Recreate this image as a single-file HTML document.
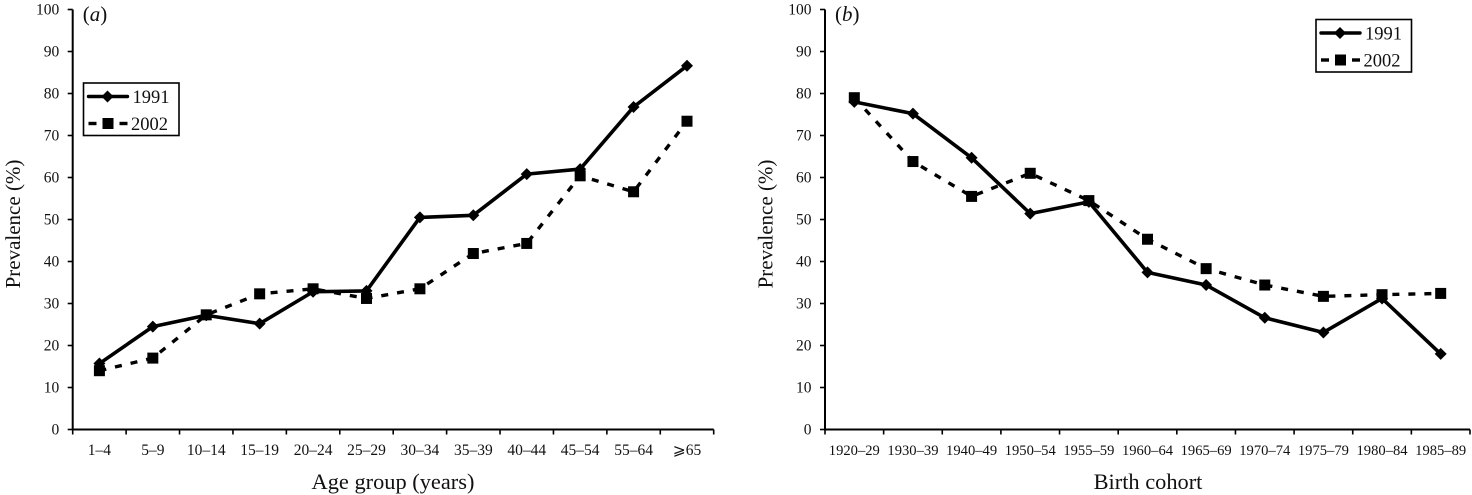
<!DOCTYPE html>
<html>
<head>
<meta charset="utf-8">
<style>
html,body{margin:0;padding:0;background:#fff;}
svg{display:block;font-family:"Liberation Serif","DejaVu Serif",serif;fill:#111;}
</style>
</head>
<body>
<svg id="chart" width="1472" height="495" viewBox="0 0 1472 495" xmlns="http://www.w3.org/2000/svg"></svg>
<script>
const yTicks = [0,10,20,30,40,50,60,70,80,90,100];
const ageGroups = ['1–4','5–9','10–14','15–19','20–24','25–29','30–34','35–39','40–44','45–54','55–64','⩾65'];
const age1991 = [15.7,24.5,27.2,25.2,32.8,33,50.5,51,60.8,62,76.8,86.6];
const age2002 = [14,17,27.3,32.3,33.5,31.2,33.5,41.9,44.3,60.4,56.6,73.4];
const cohorts = ['1920–29','1930–39','1940–49','1950–54','1955–59','1960–64','1965–69','1970–74','1975–79','1980–84','1985–89'];
const cohort1991 = [78,75.2,64.7,51.4,54.2,37.4,34.4,26.6,23.1,31.2,18];
const cohort2002 = [79,63.8,55.5,61,54.5,45.3,38.3,34.4,31.7,32.1,32.4];

const svg = document.getElementById('chart');
const NS = 'http://www.w3.org/2000/svg';
function mk(tag, attrs, parent, text){
  const el = document.createElementNS(NS, tag);
  for (const k in attrs) el.setAttribute(k, attrs[k]);
  if (text !== undefined) el.textContent = text;
  parent.appendChild(el);
  return el;
}
function marker(kind, x, y, parent, name){
  let el;
  if (kind === 'diamond') {
    el = mk('polygon', {points:`${x},${y-6} ${x+6},${y} ${x},${y+6} ${x-6},${y}`, fill:'#000'}, parent);
  } else {
    el = mk('rect', {x:x-5.5, y:y-5.5, width:11, height:11, fill:'#000'}, parent);
  }
  
  
}
function panel(o){
  const g = mk('g', {}, svg);
  
  
  const top = 9.5, bottom = 429.5, yMax = 100;
  const y = v => bottom - (v / yMax) * (bottom - top);
  const band = o.width / o.cats.length;
  const x = i => o.x0 + band * (i + 0.5);

  const axis = mk('path', {
    d:`M${o.x0} ${top}V${bottom}H${o.x0 + o.width}`,
    fill:'none', stroke:'#000', 'stroke-width':2
  }, g);
  
  

  yTicks.forEach(t => {
    const tick = mk('line', {x1:o.x0-5, x2:o.x0, y1:y(t), y2:y(t), stroke:'#000', 'stroke-width':1.6}, g);
    
    
    const label = mk('text', {x:o.x0-13.5, y:y(t)+5, 'text-anchor':'end', 'font-size':15.5}, g, t);
    
    
  });
  for (let i = 0; i <= o.cats.length; i++) {
    const xt = o.x0 + band * i;
    const tick = mk('line', {x1:xt, x2:xt, y1:bottom, y2:bottom+5, stroke:'#000', 'stroke-width':1.6}, g);
    
    
  }
  o.cats.forEach((c, i) => {
    const label = mk('text', {x:x(i), y:455, 'text-anchor':'middle', 'font-size':o.catSize}, g, c);
    
    
  });

  const pts = s => s.map((v, i) => x(i) + ',' + y(v)).join(' ');
  const dashed = mk('polyline', {points:pts(o.s2002), fill:'none', stroke:'#000', 'stroke-width':3.4, 'stroke-dasharray':'7 9'}, g);
  
  
  const solid = mk('polyline', {points:pts(o.s1991), fill:'none', stroke:'#000', 'stroke-width':3.6, 'stroke-linejoin':'round'}, g);
  
  
  o.s1991.forEach((v, i) => marker('diamond', x(i), y(v), g, o.id + '-point-1991'));
  o.s2002.forEach((v, i) => marker('square', x(i), y(v), g, o.id + '-point-2002'));

  const yTitle = mk('text', {transform:`translate(${o.x0-52.5},224) rotate(-90)`, 'text-anchor':'middle', 'font-size':21}, g, 'Prevalence (%)');
  
  
  const xTitle = mk('text', {x:o.xTitleX, y:489, 'text-anchor':'middle', 'font-size':22.4}, g, o.xTitle);
  
  
  const tag = mk('text', {x:o.x0+10, y:21, 'font-size':21}, g);
  
  
  mk('tspan', {}, tag, '(');
  mk('tspan', {'font-style':'italic'}, tag, o.id);
  mk('tspan', {}, tag, ')');

  const lg = mk('g', {}, g);
  
  
  const lx = o.legendX, ly = o.legendY;
  mk('rect', {x:lx, y:ly, width:95.5, height:52.5, fill:'#fff', stroke:'#000', 'stroke-width':1.6}, lg);
  mk('line', {x1:lx+5, x2:lx+44, y1:ly+13.5, y2:ly+13.5, stroke:'#000', 'stroke-width':3.4, 'stroke-linecap':'round'}, lg);
  marker('diamond', lx+24, ly+13.5, lg, 'legend-marker-1991');
  mk('text', {x:lx+49, y:ly+20, 'font-size':18.5}, lg, '1991');
  mk('line', {x1:lx+5, x2:lx+13, y1:ly+40.5, y2:ly+40.5, stroke:'#000', 'stroke-width':3.4}, lg);
  mk('line', {x1:lx+36, x2:lx+44, y1:ly+40.5, y2:ly+40.5, stroke:'#000', 'stroke-width':3.4}, lg);
  marker('square', lx+24.5, ly+40.5, lg, 'legend-marker-2002');
  mk('text', {x:lx+47.5, y:ly+47, 'font-size':18.5}, lg, '2002');
}
panel({id:'a', x0:72.7, width:641, cats:ageGroups, s1991:age1991, s2002:age2002, catSize:15.5, xTitle:'Age group (years)', xTitleX:393, legendX:83.5, legendY:83});
panel({id:'b', x0:825, width:645, cats:cohorts, s1991:cohort1991, s2002:cohort2002, catSize:14.6, xTitle:'Birth cohort', xTitleX:1148, legendX:1316, legendY:19.5});
</script>
</body>
</html>
